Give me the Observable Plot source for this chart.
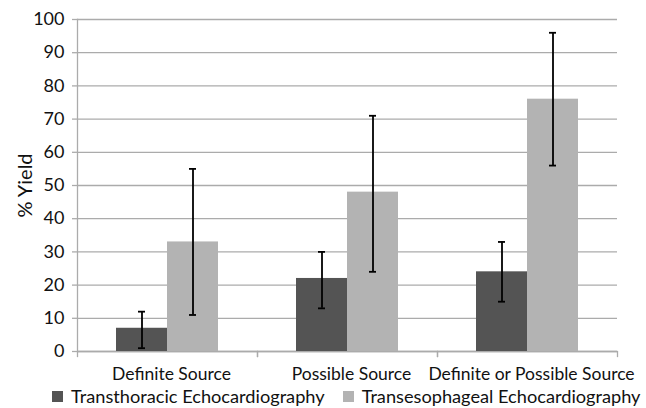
<!DOCTYPE html>
<html>
<head>
<meta charset="utf-8">
<script src="https://cdn.jsdelivr.net/npm/d3@7"></script>
<script src="https://cdn.jsdelivr.net/npm/@observablehq/plot@0.6"></script>
<style>
  html, body { margin: 0; padding: 0; background: #fff; }
  #chart { width: 646px; }
  .legend { display: flex; align-items: center; font-family: Lato, sans-serif; font-size: 18.2px; line-height: 22px; color: #111; height: 24px; padding-left: 52px; margin-top: 0px; }
  .legend .item { display: flex; align-items: center; margin-right: 18px; white-space: nowrap; }
  .legend .sw { width: 11px; height: 11px; margin-right: 8px; }
</style>
</head>
<body>
<div id="chart"></div>
<script>
const categories = ["Definite Source", "Possible Source", "Definite or Possible Source"];
const series = ["Transthoracic Echocardiography", "Transesophageal Echocardiography"];
const tteValues = [7, 22, 24];
const tteLow = [1, 13, 15];
const tteHigh = [12, 30, 33];
const teeValues = [33, 48, 76];
const teeLow = [11, 24, 56];
const teeHigh = [55, 71, 96];
const yTicks = [0, 10, 20, 30, 40, 50, 60, 70, 80, 90, 100];
const colors = ["#545454", "#b3b3b3"];

const rows = categories.flatMap((c, i) => [
  {category: c, series: series[0], value: tteValues[i], low: tteLow[i], high: tteHigh[i]},
  {category: c, series: series[1], value: teeValues[i], low: teeLow[i], high: teeHigh[i]}
]);

const H = 384, MT = 19, MB = 33;
const plotH = H - MT - MB;
const gridColor = "#ababab";

const chart = Plot.plot({
  width: 646,
  height: H,
  marginLeft: 76,
  marginRight: 28,
  marginTop: MT,
  marginBottom: MB,
  style: {fontFamily: "Lato, sans-serif", fontSize: "18px", color: "#111", background: "#fff"},
  fx: {domain: categories, padding: 0},
  x: {domain: series, paddingInner: 0, paddingOuter: 0.754, axis: null},
  y: {domain: [0, 100]},
  color: {domain: series, range: colors},
  marks: [
    Plot.gridY(yTicks, {stroke: gridColor, strokeOpacity: 1, strokeWidth: 1.3}),
    Plot.frame({anchor: "left", facetAnchor: "left", stroke: gridColor, strokeWidth: 1.3}),
    Plot.frame({anchor: "left", insetTop: plotH, insetBottom: -5, stroke: gridColor, strokeWidth: 1.3}),
    Plot.frame({anchor: "right", insetTop: plotH, insetBottom: -5, stroke: gridColor, strokeWidth: 1.3}),
    Plot.ruleY([0], {stroke: gridColor, strokeWidth: 1.3}),
    Plot.axisY(yTicks, {tickSize: 5, tickPadding: 8, stroke: gridColor, strokeWidth: 1.3, fill: "#111",
      label: "% Yield", labelAnchor: "center", labelOffset: 60, labelArrow: "none"}),
    Plot.axisFx({anchor: "bottom", tickSize: 0, tickPadding: 16, label: null, fontSize: 17.5, fill: "#111", dx: 4}),
    Plot.barY(rows, {fx: "category", x: "series", y: "value", fill: "series"}),
    Plot.ruleX(rows, {fx: "category", x: "series", y1: "low", y2: "high", stroke: "#000", strokeWidth: 1.8}),
    Plot.tickY(rows, {fx: "category", x: "series", y: "low", stroke: "#000", strokeWidth: 1.8, insetLeft: 22, insetRight: 22}),
    Plot.tickY(rows, {fx: "category", x: "series", y: "high", stroke: "#000", strokeWidth: 1.8, insetLeft: 22, insetRight: 22})
  ]
});

const root = document.getElementById("chart");
root.appendChild(chart);
d3.select(chart).selectAll("text").filter(function() { return this.textContent === "% Yield"; })
  .style("font-size", "20px");

const legend = document.createElement("div");
legend.className = "legend";
series.forEach((s, i) => {
  const item = document.createElement("div");
  item.className = "item";
  const sw = document.createElement("div");
  sw.className = "sw";
  sw.style.background = colors[i];
  const t = document.createElement("span");
  t.textContent = s;
  item.appendChild(sw);
  item.appendChild(t);
  legend.appendChild(item);
});
root.appendChild(legend);
</script>
</body>
</html>
